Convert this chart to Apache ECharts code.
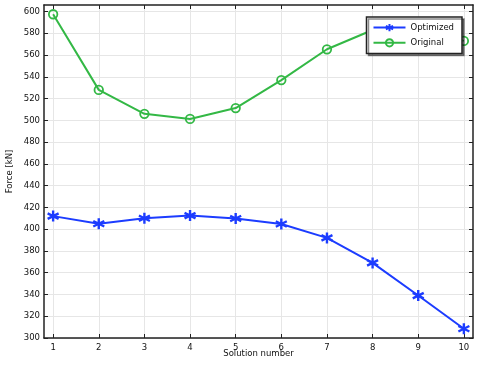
<!DOCTYPE html>
<html>
<head>
<meta charset="utf-8">
<script src="https://cdn.jsdelivr.net/npm/echarts@6/dist/echarts.min.js"></script>
<style>html,body{margin:0;padding:0;background:#fff}#c{width:483px;height:365px}</style>
</head>
<body>
<div id="c"></div>
<script>
const solutions = [1, 2, 3, 4, 5, 6, 7, 8, 9, 10];
const optimized = [412, 405, 410, 412.5, 409.8, 404.8, 392, 369, 339, 308.5];
const original = [597.5, 528, 506, 501.3, 511.3, 537, 565.3, 583, 585, 573];
const xTicks = [1, 2, 3, 4, 5, 6, 7, 8, 9, 10];
const yTicks = [300, 320, 340, 360, 380, 400, 420, 440, 460, 480, 500, 520, 540, 560, 580, 600];

const FONT = 'DejaVu Sans';
const axisColor = '#222';
const gridColor = '#e6e6e6';
const blue = '#1c3cff';
const green = '#33b845';
const asterisk = 'path://M0,-10L0,10M-8.66,-5L8.66,5M-8.66,5L8.66,-5';

const chart = echarts.init(document.getElementById('c'), null, {renderer: 'canvas'});

function xAxisCfg(pos, show) {
  return {
    type: 'value', position: pos, min: 0.8, max: 10.2,
    axisLine: {show: true, onZero: false, lineStyle: {color: axisColor, width: 1.5}},
    axisTick: {show: true, inside: true, length: 4, customValues: xTicks, lineStyle: {color: axisColor, width: 1}},
    axisLabel: {show: show, customValues: xTicks, color: '#111', fontFamily: FONT, fontSize: 8.5, margin: 5},
    splitLine: {show: show, lineStyle: {color: gridColor, width: 1}},
    name: show ? 'Solution number' : '', nameLocation: 'middle', nameGap: 11, nameMoveOverlap: false,
    nameTextStyle: {color: '#111', fontFamily: FONT, fontSize: 8.5}
  };
}
function yAxisCfg(pos, show) {
  return {
    type: 'value', position: pos, min: 300, max: 606,
    axisLine: {show: true, onZero: false, lineStyle: {color: axisColor, width: 1.5}},
    axisTick: {show: true, inside: true, length: 4, customValues: yTicks, lineStyle: {color: axisColor, width: 1}},
    axisLabel: {show: show, customValues: yTicks, color: '#111', fontFamily: FONT, fontSize: 8.5, margin: 4},
    splitLine: {show: show, lineStyle: {color: gridColor, width: 1}},
    name: show ? 'Force [kN]' : '', nameLocation: 'middle', nameGap: 30, nameMoveOverlap: false,
    nameTextStyle: {color: '#111', fontFamily: FONT, fontSize: 8.5}
  };
}

chart.setOption({
  animation: false,
  backgroundColor: '#fff',
  grid: {left: 44, right: 10, top: 5, bottom: 27, containLabel: false, outerBoundsMode: 'none'},
  xAxis: [xAxisCfg('bottom', true), xAxisCfg('top', false)],
  yAxis: [yAxisCfg('left', true), yAxisCfg('right', false)],
  legend: {
    orient: 'vertical', right: 21, top: 17,
    backgroundColor: '#fff', borderColor: '#222', borderWidth: 1.5,
    padding: [6, 8, 6, 6], itemGap: 6, itemWidth: 32, itemHeight: 9,
    shadowColor: 'rgba(0,0,0,0.45)', shadowOffsetX: 2, shadowOffsetY: 2, shadowBlur: 0,
    textStyle: {color: '#111', fontFamily: FONT, fontSize: 8.5},
    data: ['Optimized', 'Original']
  },
  series: [
    {
      name: 'Optimized', type: 'line', xAxisIndex: 0, yAxisIndex: 0,
      data: solutions.map((s, i) => [s, optimized[i]]),
      symbol: asterisk, symbolSize: 11,
      lineStyle: {color: blue, width: 2},
      itemStyle: {color: blue, borderColor: blue, borderWidth: 2.4}
    },
    {
      name: 'Original', type: 'line', xAxisIndex: 0, yAxisIndex: 0,
      data: solutions.map((s, i) => [s, original[i]]),
      symbol: 'circle', symbolSize: 8.5,
      lineStyle: {color: green, width: 2},
      itemStyle: {color: 'rgba(255,255,255,0)', borderColor: green, borderWidth: 1.8}
    }
  ]
});
</script>
</body>
</html>
